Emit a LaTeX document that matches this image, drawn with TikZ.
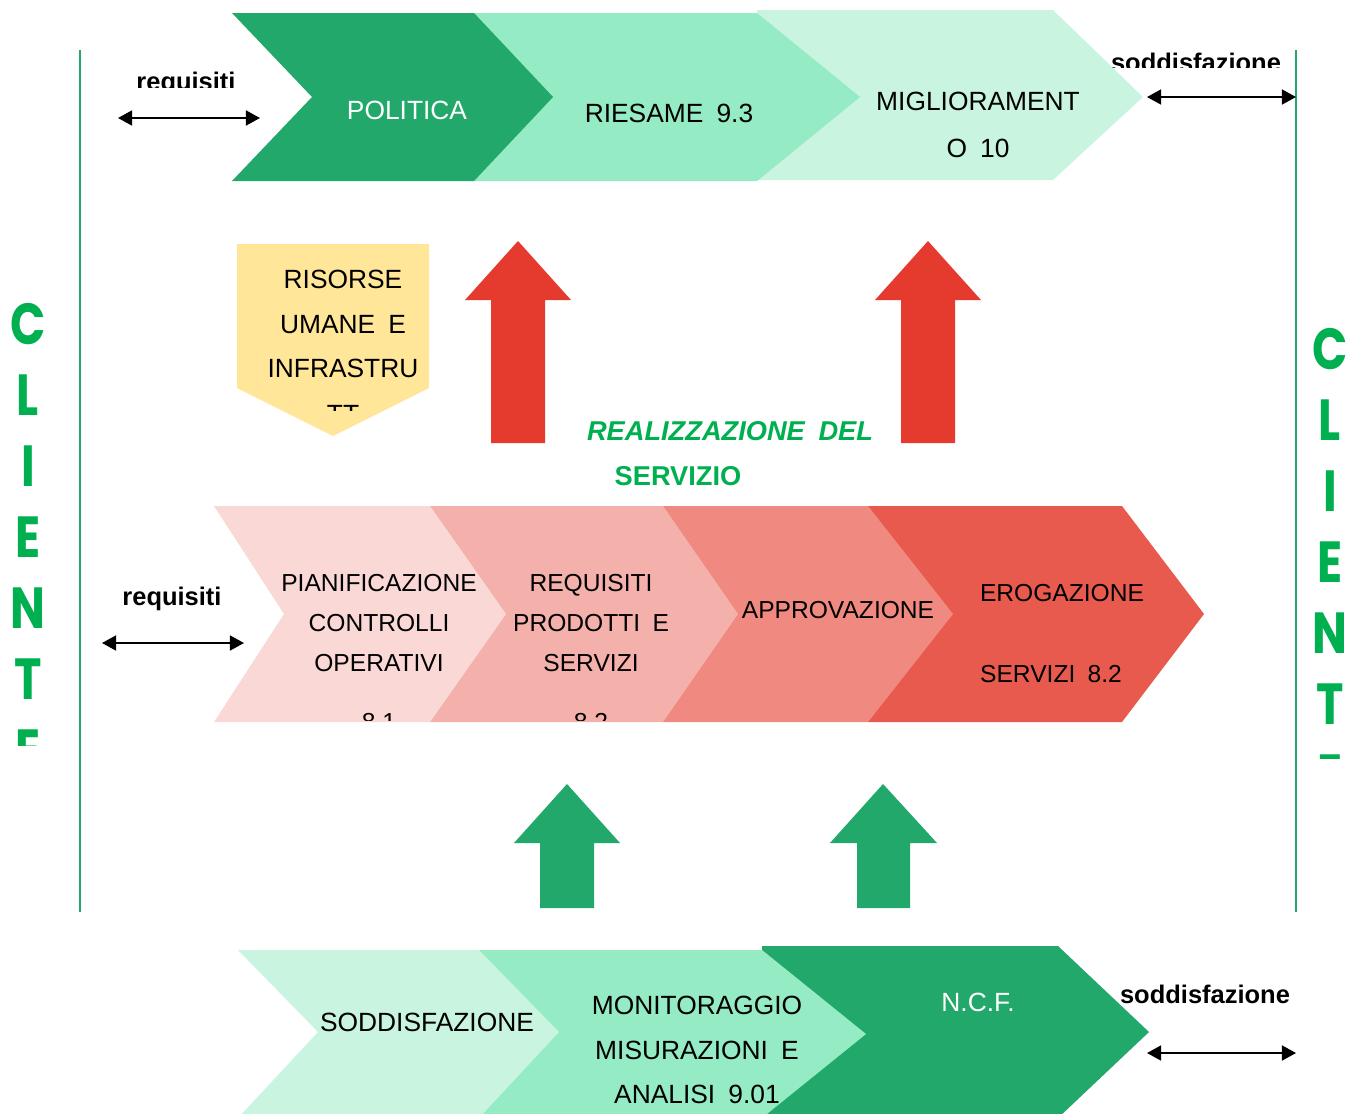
\documentclass[tikz,border=0pt]{standalone}
\usepackage{fontspec}
\setmainfont[WordSpace=1.8]{Liberation Sans}
\newfontfamily\clientfont[FakeStretch=0.8]{Poppins}
\usetikzlibrary{arrows.meta}

\definecolor{verdescuro}{HTML}{21A86A}
\definecolor{verdemedio}{HTML}{95EBC3}
\definecolor{verdechiaro}{HTML}{C8F4E0}
\definecolor{rosa1}{HTML}{F9D8D6}
\definecolor{rosa2}{HTML}{F4B1AC}
\definecolor{rosa3}{HTML}{F08A81}
\definecolor{rosso}{HTML}{E85A4E}
\definecolor{rossofreccia}{HTML}{E53B2F}
\definecolor{giallo}{HTML}{FFE699}
\definecolor{verdecliente}{HTML}{00B050}

\tikzstyle{toptext} = [font=\fontsize{15}{27.2}\selectfont, align=center, inner sep=0pt]
\tikzstyle{midtext} = [font=\fontsize{14}{22.7}\selectfont, align=center, inner sep=0pt]
\tikzstyle{bottext} = [font=\fontsize{15}{25.5}\selectfont, align=center, inner sep=0pt]
\tikzstyle{flowtag} = [font=\bfseries\fontsize{14.5}{17}\selectfont, inner sep=0pt]
\tikzstyle{greentitle} = [font=\bfseries\fontsize{15.5}{18}\selectfont, text=verdecliente, inner sep=0pt]
\tikzstyle{letterbox} = [font=\clientfont\bfseries\fontsize{33}{33}\selectfont, text=verdecliente, inner sep=0pt]
\tikzstyle{sideline} = [draw=verdescuro, line width=0.9pt]
\tikzstyle{biarrow} = [line width=1.1pt, {Triangle[length=8pt,width=8.5pt]}-{Triangle[length=8pt,width=8.5pt]}]

\begin{document}
\begin{tikzpicture}[x=0.02cm, y=-0.02cm]
  \useasboundingbox (0,0) rectangle (1349,1113);
  \clip (0,0) rectangle (1349,1113);

  % top row
  \fill[verdechiaro] (757,10) -- (1053,10) -- (1143,97) -- (1053,180) -- (757,180) -- cycle;
  \fill[verdemedio] (474,13) -- (757,13) -- (860,97) -- (757,181) -- (474,181) -- cycle;
  \fill[verdescuro] (232,13) -- (474,13) -- (553,97) -- (474,181) -- (232,181) -- (312,97) -- cycle;
  \node (politica) [toptext, text=white] at (407,110) {POLITICA};
  \node (riesame) [toptext] at (669,113) {RIESAME 9.3};
  \node (miglior) [toptext] at (978,125) {MIGLIORAMENT\\O 10};

  % risorse
  \fill[giallo] (237,244) -- (429,244) -- (429,388) -- (333,436) -- (237,388) -- cycle;
  \node (risorse) [bottext] at (343,324) {RISORSE\\UMANE E\\INFRASTRU};
  \begin{scope}
    \clip (237,380) rectangle (429,410);
    \node (risorsett) [bottext] at (343,414) {TT};
  \end{scope}

  % red arrows
  \fill[rossofreccia] (491,443) -- (491,300) -- (465,300) -- (518,241) -- (571,300) -- (545,300) -- (545,443) -- cycle;
  \fill[rossofreccia] (901,443) -- (901,300) -- (875,300) -- (928,241) -- (981,300) -- (955,300) -- (955,443) -- cycle;

  \node (realizz) [greentitle, font=\bfseries\itshape\fontsize{15.5}{18}\selectfont] at (730,431) {REALIZZAZIONE DEL};
  \node (servizio) [greentitle] at (678,476) {SERVIZIO};

  % middle row
  \fill[rosso] (868,506) -- (1122,506) -- (1204,614) -- (1122,722) -- (868,722) -- cycle;
  \fill[rosa3] (663,506) -- (868,506) -- (953,614) -- (868,722) -- (663,722) -- cycle;
  \fill[rosa2] (430,506) -- (663,506) -- (738,614) -- (663,722) -- (430,722) -- cycle;
  \fill[rosa1] (214,506) -- (430,506) -- (506,614) -- (430,722) -- (214,722) -- (284,614) -- cycle;
  \node (pianif) [midtext] at (379,623) {PIANIFICAZIONE\\CONTROLLI\\OPERATIVI};
  \node (requis) [midtext] at (591,623) {REQUISITI\\PRODOTTI E\\SERVIZI};
  \begin{scope}
    \clip (214,700) rectangle (740,720);
    \node (pianifnum) [midtext] at (379,722) {8.1};
    \node (requisnum) [midtext] at (591,722) {8.2};
  \end{scope}
  \node (approv) [midtext] at (838,610) {APPROVAZIONE};
  \node (erog) [midtext] at (1062,593) {EROGAZIONE};
  \node (servizi) [midtext] at (1051,674) {SERVIZI 8.2};

  % green arrows
  \fill[verdescuro] (540,908) -- (540,843) -- (514,843) -- (567,784) -- (620,843) -- (594,843) -- (594,908) -- cycle;
  \fill[verdescuro] (857,908) -- (857,843) -- (830,843) -- (883,784) -- (937,843) -- (910,843) -- (910,908) -- cycle;

  % bottom row
  \fill[verdescuro] (762,946) -- (1058,946) -- (1149,1032) -- (1058,1118) -- (762,1118) -- cycle;
  \fill[verdemedio] (479,950) -- (762,950) -- (866,1034) -- (762,1118) -- (479,1118) -- cycle;
  \fill[verdechiaro] (238,950) -- (479,950) -- (559,1032) -- (479,1118) -- (238,1118) -- (318,1032) -- cycle;
  \node (soddisf) [bottext] at (427,1022) {SODDISFAZIONE};
  \node (monit) [bottext] at (697,1050) {MONITORAGGIO\\MISURAZIONI E\\ANALISI 9.01};
  \node (ncf) [bottext, text=white] at (978,1002) {N.C.F.};

  % clienti
  \draw[sideline] (80,50) -- (80,912);
  \draw[sideline] (1296,50) -- (1296,912);
  \begin{scope}
    \clip (0,280) rectangle (70,745);
    \foreach \l [count=\i] in {C,L,I,E,N,T,E}
      \node (clisx\i) [letterbox] at (28,{324+71*(\i-1)}) {\l};
  \end{scope}
  \begin{scope}
    \clip (1300,300) rectangle (1349,758);
    \foreach \l [count=\i] in {C,L,I,E,N,T,E}
      \node (clidx\i) [letterbox] at (1330,{349+71*(\i-1)}) {\l};
  \end{scope}

  % requisiti / soddisfazione
  \begin{scope}
    \clip (100,50) rectangle (280,87);
    \node (reqtop) [flowtag, anchor=base] at (186,90) {requisiti};
  \end{scope}
  \coordinate (reqtopA) at (118,118);
  \coordinate (reqtopB) at (260,118);
  \draw[biarrow] (reqtopA) -- (reqtopB);

  \node (reqmid) [flowtag, anchor=base] at (172,605) {requisiti};
  \coordinate (reqmidA) at (102,643);
  \coordinate (reqmidB) at (244,643);
  \draw[biarrow] (reqmidA) -- (reqmidB);

  \begin{scope}
    \clip (1100,30) rectangle (1294,67);
    \node (sodtop) [flowtag, anchor=base] at (1196,71) {soddisfazione};
  \end{scope}
  \coordinate (sodtopA) at (1147,97);
  \coordinate (sodtopB) at (1296,97);
  \draw[biarrow] (sodtopA) -- (sodtopB);

  \node (sodbot) [flowtag, anchor=base] at (1205,1003) {soddisfazione};
  \coordinate (sodbotA) at (1147,1053);
  \coordinate (sodbotB) at (1296,1053);
  \draw[biarrow] (sodbotA) -- (sodbotB);
\end{tikzpicture}
\end{document}
